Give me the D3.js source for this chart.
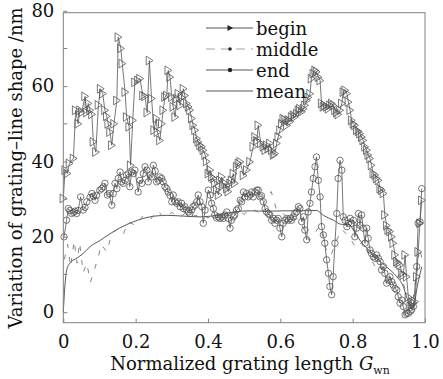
<!DOCTYPE html>
<html><head><meta charset="utf-8">
<script src="https://cdn.jsdelivr.net/npm/d3@7"></script>
<style>
html,body{margin:0;padding:0;background:#fff;}
svg{display:block;}
text{font-family:"DejaVu Serif",serif;fill:#111;}
</style></head>
<body>
<svg id="c" width="443" height="379"></svg>
<script>
// ---- data ----
const xTicks = [0, 0.2, 0.4, 0.6, 0.8, 1.0];
const xTickLabels = ["0", "0.2", "0.4", "0.6", "0.8", "1.0"];
const yTicks = [0, 20, 40, 60, 80];
const yTickLabels = ["0", "20", "40", "60", "80"];
const yMinor = [10, 30, 50, 70];
const seriesNames = ["begin", "middle", "end", "mean"];

const xBegin = [0.000,0.005,0.011,0.017,0.028,0.034,0.041,0.046,0.051,0.060,0.065,0.069,0.074,0.079,0.083,0.090,0.097,0.103,0.109,0.115,0.120,0.124,0.129,0.134,0.140,0.148,0.152,0.159,0.163,0.171,0.175,0.182,0.186,0.192,0.198,0.206,0.212,0.220,0.226,0.232,0.238,0.244,0.251,0.257,0.260,0.267,0.272,0.276,0.281,0.286,0.290,0.295,0.300,0.304,0.309,0.314,0.318,0.323,0.327,0.332,0.336,0.341,0.346,0.350,0.355,0.359,0.364,0.369,0.373,0.378,0.383,0.387,0.392,0.396,0.401,0.406,0.410,0.415,0.419,0.424,0.429,0.433,0.438,0.442,0.447,0.452,0.456,0.461,0.465,0.470,0.474,0.479,0.484,0.489,0.498,0.507,0.516,0.525,0.530,0.535,0.539,0.546,0.553,0.558,0.562,0.567,0.571,0.576,0.581,0.585,0.590,0.594,0.599,0.604,0.608,0.613,0.618,0.622,0.627,0.631,0.636,0.640,0.645,0.650,0.654,0.659,0.664,0.668,0.673,0.677,0.682,0.686,0.691,0.696,0.700,0.705,0.710,0.714,0.719,0.723,0.728,0.733,0.737,0.742,0.746,0.751,0.756,0.760,0.765,0.770,0.774,0.779,0.784,0.788,0.793,0.797,0.802,0.806,0.811,0.816,0.820,0.825,0.829,0.834,0.839,0.843,0.848,0.852,0.857,0.862,0.866,0.871,0.876,0.880,0.885,0.889,0.894,0.898,0.903,0.908,0.912,0.917,0.922,0.926,0.931,0.936,0.940,0.945,0.949,0.954,0.959,0.963,0.968,0.972,0.977,0.981,0.986,0.991];
const begin = [30.2,37.7,36.8,39.5,40.8,53.6,50,53.6,53,57.3,53,55.4,53.6,52.5,45.2,42.5,55,59.3,58,53.6,52,50,47.8,44.3,50,56.2,73,70,66,58.4,51.8,49.2,39,50.9,61,61.5,62,57.5,57.3,53,66.8,56.7,48.3,51.4,47.8,45.6,50,53.6,57.1,57.5,64.2,62.4,57.1,54.5,51.8,56.7,58,54.9,57,59.3,57.5,55.4,54.5,53.6,51.4,49.6,48.3,46.1,45.2,44.3,43.9,43,41.7,40,36.8,37.7,35.9,35.5,34.2,32.4,31.1,35,35.9,33.6,34.2,32.8,32,34.2,35,36.8,34.2,38.6,39.5,39.9,36.3,37.7,39.9,43.9,46.5,45.5,49.6,44.8,43.9,43,44.3,43.4,44.8,43,41.7,42.1,44.8,46.5,48.3,50,51.4,51,49.6,51,50.6,51.8,52.3,51.8,52.7,53.6,54,53.2,54,54.9,56.2,57,58,62,63.3,64.2,63.8,62.4,61.5,55.4,54.5,54.9,54.5,54,54.9,55.4,54.9,53.6,53,52.5,53.6,55.4,58.4,58.9,58,55.8,53.6,50.9,50,49.6,48.3,48,47.4,46.5,45.6,43.9,43,41.7,40.8,39,36.8,36.4,35.5,35,32.8,32.4,31.5,25.8,23,21.8,21.4,20,18.3,15.2,13.4,13,12.5,10.3,9.8,15.2,9.4,4,1.5,1.8,2.4,2.8,9.4,16,23.6,29.7];

const xEnd = [0.002,0.009,0.014,0.018,0.023,0.028,0.032,0.037,0.041,0.048,0.055,0.060,0.065,0.074,0.079,0.083,0.088,0.092,0.101,0.106,0.111,0.115,0.122,0.127,0.134,0.138,0.143,0.148,0.152,0.157,0.161,0.166,0.171,0.175,0.180,0.184,0.189,0.194,0.198,0.207,0.212,0.217,0.221,0.226,0.231,0.235,0.240,0.244,0.249,0.254,0.258,0.263,0.267,0.272,0.276,0.281,0.286,0.290,0.295,0.300,0.304,0.309,0.314,0.318,0.323,0.327,0.332,0.336,0.341,0.346,0.350,0.355,0.359,0.364,0.369,0.373,0.378,0.383,0.387,0.392,0.401,0.406,0.410,0.415,0.419,0.424,0.429,0.433,0.438,0.442,0.447,0.452,0.456,0.461,0.465,0.470,0.474,0.479,0.484,0.489,0.493,0.498,0.502,0.507,0.511,0.516,0.521,0.525,0.530,0.535,0.539,0.544,0.548,0.553,0.558,0.562,0.567,0.571,0.576,0.581,0.585,0.590,0.594,0.599,0.604,0.608,0.613,0.618,0.622,0.627,0.631,0.636,0.640,0.645,0.650,0.654,0.659,0.664,0.668,0.673,0.677,0.682,0.686,0.691,0.696,0.700,0.705,0.710,0.714,0.719,0.723,0.728,0.733,0.737,0.742,0.746,0.751,0.756,0.760,0.765,0.770,0.774,0.779,0.784,0.788,0.793,0.797,0.802,0.806,0.811,0.816,0.820,0.825,0.829,0.834,0.839,0.843,0.848,0.852,0.857,0.862,0.866,0.871,0.876,0.880,0.885,0.889,0.894,0.898,0.903,0.908,0.912,0.917,0.922,0.926,0.931,0.936,0.940,0.945,0.949,0.954,0.959,0.963,0.968,0.977,0.981,0.986,0.991];
const end = [20,24.4,27.5,27,26.2,26.5,26.8,26.2,27,30.6,27.1,27.8,29.3,30.5,31.5,30.8,29.7,31,32.4,32.8,33.3,34.2,31.1,31.5,28.4,31.5,34.2,32.8,35.5,37.2,34.6,34.2,35,36.4,36.8,33.3,37.2,36.8,37.7,31.9,35,34.2,36.8,38.6,37.7,34.6,36.4,35.9,39,37.5,34.6,35,35.9,35.5,34.6,33.3,32.8,31.9,31,29.3,31.1,29.3,28.9,29.3,28,28.9,27.5,28,27.1,26.6,26.2,27.1,28,28.4,29.3,31.1,29.3,28,23.6,27.1,32.4,31.1,28.9,27.5,25.8,25,25.3,24.9,25.3,24.9,25.8,26.6,24.9,22.3,24.4,25.3,25.8,27.1,27.5,29.7,29.3,31.9,30.6,31.5,30.6,31.1,31.9,30.6,31.9,32.4,32.4,30.6,30.9,29.3,27.5,26.6,26.2,25.8,24.4,24.9,23.6,24.4,24.9,22.3,20,23.6,24.4,24.9,24.4,24.9,24.4,25.3,26.2,26.6,28,27.5,24,25.3,21.8,19.2,26.6,28.9,31.9,35.5,38.6,41.2,35,30.6,22.7,20.5,18.3,13.9,10.3,6.8,4.6,9.4,18.3,26.2,35.5,40.3,37.7,25.3,24.4,22.7,23.6,24.9,23.6,24.4,20,22.3,26.2,23.1,25.8,22.3,18.3,22.3,19.6,16.5,15.6,14.7,14.3,15.2,14.3,13.4,11.2,12.1,10.3,7.7,8.5,9.4,8.1,7.2,6.3,5.9,4.1,2.4,3.2,1.5,-0.7,-0.3,-0.3,0.2,0.6,1.5,12.1,23.6,24,32.8];

const xMiddle = [0.003,0.012,0.020,0.030,0.038,0.045,0.055,0.065,0.075,0.085,0.095,0.105,0.120,0.135,0.150,0.165,0.180,0.200,0.220,0.240,0.260,0.280,0.300,0.320,0.340,0.360,0.380,0.400,0.420,0.440,0.460,0.480,0.500,0.520,0.540,0.560,0.575,0.590,0.610,0.630,0.650,0.665,0.680,0.695,0.710,0.725,0.740,0.755,0.770,0.790,0.810,0.830,0.850,0.870,0.890,0.910,0.930,0.950,0.965,0.975,0.985,0.992];
const middle = [14,18,12,19,13,18.5,10.5,13,8,11,14,18,16,21,22,20.5,24,23,25.5,24.5,27,25,26.5,25,26.5,25.5,26,25,26.5,25.5,26,27,26,27.5,26.5,30,32,27,26,24,25,22,19,21,23,17,15,19,22,20,17,19,14,11,12,8,10,5,2,9,17,14];

const xMean = [0,0.005,0.009,0.018,0.037,0.055,0.074,0.101,0.129,0.157,0.194,0.240,0.286,0.332,0.378,0.424,0.470,0.516,0.562,0.608,0.654,0.700,0.719,0.747,0.770,0.790,0.802,0.820,0.839,0.866,0.894,0.922,0.940,0.949,0.959,0.968,0.977,0.991];
const mean = [0,7.7,11,13,14.3,15.6,17.4,19,20.8,22.4,24,25.3,25.7,25.5,25.3,25.7,26.6,26.9,26.8,26.9,26.9,27,25.7,24.4,23.3,23.3,21.8,19.1,17,14.3,12,9.4,6.8,4.1,1.5,1,6,12];

// ---- chart ----
const svg = d3.select("#c");
const L = 63.3, R = 425, T = 12.7, B = 322.7;
const x = d3.scaleLinear().domain([0, 1]).range([L, R]);
const y = d3.scaleLinear().domain([-2.8, 79.5]).range([B, T]);

const zip = (xs, ys) => xs.map((v, i) => [v, ys[i]]);
const line = d3.line().x(d => x(d[0])).y(d => y(d[1]));

const plot = svg.append("g");
// mean
plot.append("path").attr("d", line(zip(xMean, mean).map(d=>d)))
  .attr("fill", "none").attr("stroke", "#444").attr("stroke-width", 0.9)
  .attr("d", d3.line().curve(d3.curveMonotoneX).x(d => x(d[0])).y(d => y(d[1]))(zip(xMean, mean)));
// middle (dashed)
plot.append("path").attr("d", line(zip(xMiddle, middle)))
  .attr("fill", "none").attr("stroke", "#777").attr("stroke-width", 0.9)
  .attr("stroke-dasharray", "5,9");
// end
plot.append("path").attr("d", line(zip(xEnd, end)))
  .attr("fill", "none").attr("stroke", "#555").attr("stroke-width", 0.8);
plot.selectAll("circle.e").data(zip(xEnd, end)).enter().append("circle")
  .attr("cx", d => x(d[0])).attr("cy", d => y(d[1])).attr("r", 3.2)
  .attr("fill", "none").attr("stroke", "#555").attr("stroke-width", 0.8);
// begin
plot.append("path").attr("d", line(zip(xBegin, begin)))
  .attr("fill", "none").attr("stroke", "#555").attr("stroke-width", 0.8);
const tri = "M-3.2,-4.4L3.6,0L-3.2,4.4Z";
plot.selectAll("path.b").data(zip(xBegin, begin)).enter().append("path")
  .attr("d", tri).attr("transform", d => `translate(${x(d[0])},${y(d[1])})`)
  .attr("fill", "none").attr("stroke", "#555").attr("stroke-width", 0.8);

// frame
svg.append("rect").attr("x", L).attr("y", T).attr("width", R - L).attr("height", B - T)
  .attr("fill", "none").attr("stroke", "#808080").attr("stroke-width", 1);

// axes (ticks inside)
const xAxis = d3.axisBottom(x).tickValues(xTicks).tickSize(-4).tickPadding(13)
  .tickFormat((d, i) => xTickLabels[i]);
const gx = svg.append("g").attr("transform", `translate(0,${B})`).call(xAxis);
gx.select(".domain").remove();
gx.selectAll("line").attr("stroke", "#808080");
gx.selectAll("text").attr("font-size", 18).attr("font-family", "DejaVu Serif").attr("fill", "#111");

const yAxis = d3.axisLeft(y).tickValues(yTicks).tickSize(-4).tickPadding(9)
  .tickFormat((d, i) => yTickLabels[i]);
const gy = svg.append("g").attr("transform", `translate(${L},0)`).call(yAxis);
gy.select(".domain").remove();
gy.selectAll("line").attr("stroke", "#808080");
gy.selectAll("text").attr("font-size", 18).attr("font-family", "DejaVu Serif").attr("fill", "#111");
svg.append("g").selectAll("line").data(yMinor).enter().append("line")
  .attr("x1", L).attr("x2", L + 4).attr("y1", d => y(d)).attr("y2", d => y(d))
  .attr("stroke", "#808080");

// axis titles
const xt = svg.append("text").attr("x", 250).attr("y", 370).attr("text-anchor", "middle")
  .attr("font-size", 18);
xt.append("tspan").text("Normalized grating length ");
xt.append("tspan").attr("font-style", "italic").text("G");
xt.append("tspan").attr("font-size", 11).attr("dy", 4).text("wn");

svg.append("text").attr("transform", "translate(22,168) rotate(-90)")
  .attr("text-anchor", "middle").attr("font-size", 18)
  .text("Variation of grating–line shape /nm");

// legend
const legY = [28, 49, 70, 91];
const lg = svg.append("g");
seriesNames.forEach((name, i) => {
  const yy = legY[i];
  const ln = lg.append("line").attr("x1", 206).attr("x2", 253).attr("y1", yy).attr("y2", yy)
    .attr("stroke", i === 1 ? "#999" : "#444").attr("stroke-width", 0.9);
  if (i === 1) ln.attr("stroke-dasharray", "9,6");
  if (i === 0) lg.append("path").attr("d", "M-2.5,-3L3,0L-2.5,3Z")
    .attr("transform", `translate(230,${yy})`).attr("fill", "#222");
  if (i === 1 || i === 2) lg.append("circle").attr("cx", 230).attr("cy", yy)
    .attr("r", i === 2 ? 2.2 : 1.8).attr("fill", "#222");
  lg.append("text").attr("x", 256).attr("y", yy + 7).attr("font-size", 18).text(name);
});
</script>
</body></html>
